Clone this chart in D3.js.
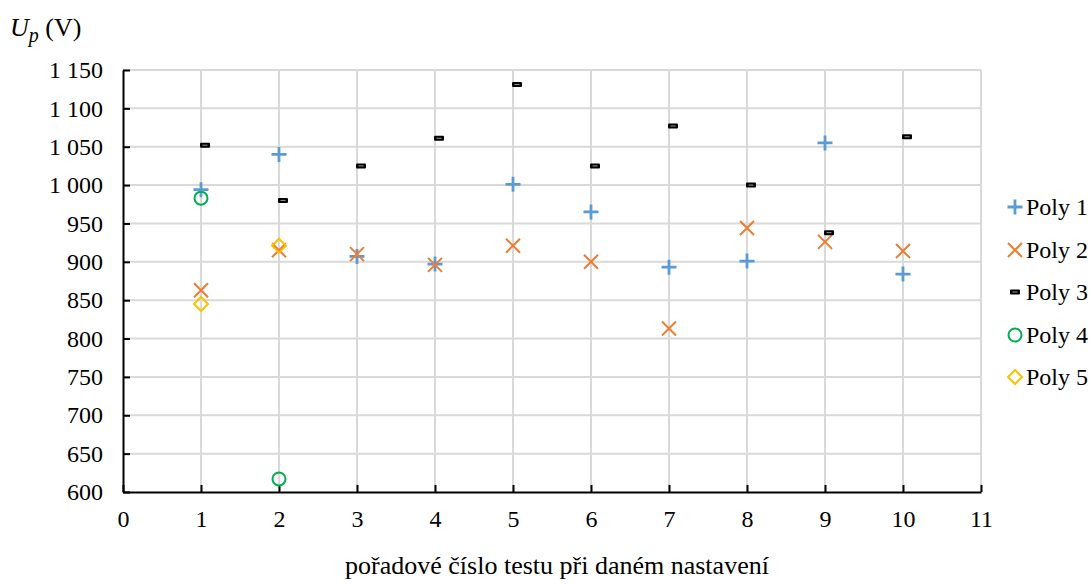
<!DOCTYPE html>
<html>
<head>
<meta charset="utf-8">
<script src="https://cdn.jsdelivr.net/npm/d3@7"></script>
<style>
  html, body { margin: 0; padding: 0; background: #fff; }
  svg { display: block; }
  text { font-family: "Liberation Serif", "Times New Roman", serif; fill: #000; }
</style>
</head>
<body>
<svg id="chart" width="1091" height="584"></svg>
<script>
// Test numbers (x) and measured voltages for each series
const tests = [1, 2, 3, 4, 5, 6, 7, 8, 9, 10];
const poly1 = [994, 1040, 907, 897, 1001, 965, 893, 901, 1055, 884];
const poly2 = [863, 915, 910, 896, 921, 900, 813, 944, 926, 914];
const poly3 = [1052, 980, 1025, 1061, 1131, 1025, 1077, 1000, 938, 1063];
const poly4Tests = [1, 2];
const poly4 = [983, 617];
const poly5Tests = [1, 2];
const poly5 = [845, 921];

const xTicks = d3.range(0, 12);
const yTicks = d3.range(600, 1151, 50);
const seriesNames = ["Poly 1", "Poly 2", "Poly 3", "Poly 4", "Poly 5"];

const svg = d3.select("#chart");
const margin = { left: 123, right: 110, top: 70, bottom: 92 };
const W = 1091, H = 584;

const x = d3.scaleLinear().domain([0, 11]).range([margin.left, W - margin.right]);
const y = d3.scaleLinear().domain([600, 1150]).range([H - margin.bottom, margin.top]);

const fmt = v => d3.format(",")(v).replace(/,/g, "\u00a0");

// grid
const grid = svg.append("g");
grid.selectAll("line.h").data(yTicks.filter(v => v > 600)).join("line")
  .attr("x1", x(0)).attr("x2", x(11))
  .attr("y1", d => y(d)).attr("y2", d => y(d))
  .attr("stroke", "#d9d9d9").attr("stroke-width", 2);
grid.selectAll("line.v").data(xTicks.filter(v => v > 0)).join("line")
  .attr("x1", d => x(d)).attr("x2", d => x(d))
  .attr("y1", y(600)).attr("y2", y(1150))
  .attr("stroke", "#d9d9d9").attr("stroke-width", 2);

// axes (ticks point into the plot)
const xAxis = svg.append("g").attr("transform", `translate(0,${y(600)})`)
  .call(d3.axisBottom(x).tickValues(xTicks).tickSize(-7).tickPadding(18).tickSizeOuter(0));
const yAxis = svg.append("g").attr("transform", `translate(${x(0)},0)`)
  .call(d3.axisLeft(y).tickValues(yTicks).tickSize(-7).tickPadding(20).tickFormat(fmt).tickSizeOuter(0));
[xAxis, yAxis].forEach(a => {
  a.select(".domain").attr("stroke", "#000").attr("stroke-width", 2);
  a.selectAll(".tick line").attr("stroke", "#000").attr("stroke-width", 2);
  a.selectAll(".tick text").attr("font-size", 24)
    .attr("font-family", "Liberation Serif, Times New Roman, serif").attr("fill", "#000");
});
xAxis.selectAll(".tick text").attr("dy", "0.71em");

// marker shapes
const markers = {
  plus: (g, c) => {
    g.append("path").attr("d", "M-7.5,0H7.5M0,-7.5V7.5").attr("stroke", c).attr("stroke-width", 2.8).attr("fill", "none");
  },
  cross: (g, c) => {
    g.append("path").attr("d", "M-7,-7L7,7M-7,7L7,-7").attr("stroke", c).attr("stroke-width", 2).attr("fill", "none");
  },
  dash: (g, c) => {
    g.append("rect").attr("x", -5).attr("y", -2.5).attr("width", 10).attr("height", 5).attr("rx", 1)
      .attr("fill", c);
    g.append("line").attr("x1", -2.5).attr("x2", 2.5).attr("y1", 0).attr("y2", 0)
      .attr("stroke", "#9a9a9a").attr("stroke-width", 1);
  },
  circle: (g, c) => {
    g.append("circle").attr("r", 6.5).attr("fill", "none").attr("stroke", c).attr("stroke-width", 2);
  },
  diamond: (g, c) => {
    g.append("path").attr("d", "M0,-7L7,0L0,7L-7,0Z").attr("fill", "none").attr("stroke", c).attr("stroke-width", 2);
  }
};

const series = [
  { name: seriesNames[0], xs: tests, ys: poly1, shape: "plus", color: "#5b9bd5", dx: 0 },
  { name: seriesNames[1], xs: tests, ys: poly2, shape: "cross", color: "#ed7d31", dx: 0 },
  { name: seriesNames[2], xs: tests, ys: poly3, shape: "dash", color: "#000000", dx: 4 },
  { name: seriesNames[3], xs: poly4Tests, ys: poly4, shape: "circle", color: "#00b050", dx: 0 },
  { name: seriesNames[4], xs: poly5Tests, ys: poly5, shape: "diamond", color: "#ffc000", dx: 0 }
];

// points, series by series in legend order
series.forEach(s => {
  const g = svg.append("g");
  s.ys.forEach((v, i) => {
    const m = g.append("g").attr("transform", `translate(${x(s.xs[i]) + s.dx},${y(v)})`);
    markers[s.shape](m, s.color);
  });
});

// legend
const legend = svg.append("g");
const legendY = [207, 250, 292, 335, 377];
series.forEach((s, i) => {
  const m = legend.append("g").attr("transform", `translate(1015,${legendY[i]})`);
  markers[s.shape](m, s.color);
  legend.append("text").attr("x", 1026).attr("y", legendY[i]).attr("dy", "0.35em")
    .attr("font-size", 24).text(s.name);
});

// axis titles
const yt = svg.append("text").attr("x", 10).attr("y", 36).attr("font-size", 26);
yt.append("tspan").attr("font-style", "italic").text("U");
yt.append("tspan").attr("font-style", "italic").attr("font-size", 20).attr("dy", 6).text("p");
yt.append("tspan").attr("dy", -6).text(" (V)");

svg.append("text").attr("x", 557).attr("y", 574).attr("text-anchor", "middle")
  .attr("font-size", 26).text("pořadové číslo testu při daném nastavení");
</script>
</body>
</html>
